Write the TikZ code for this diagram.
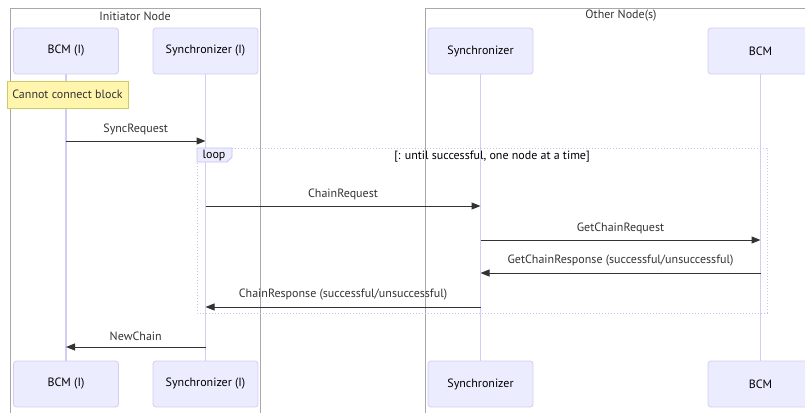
\documentclass[tikz,border=0pt]{standalone}
\usepackage{fontspec}
\setmainfont{PT Sans}
\usetikzlibrary{arrows.meta,positioning}
\definecolor{actfill}{HTML}{ECECFF}
\definecolor{actline}{HTML}{D4CCF2}
\definecolor{grpline}{HTML}{A8A8A8}
\definecolor{txt}{HTML}{333333}
\definecolor{notefill}{HTML}{FFF5AD}
\definecolor{noteline}{HTML}{CCCC66}
\definecolor{loopline}{HTML}{C8C0EE}
\tikzset{
  actor/.style={draw=actline, fill=actfill, rounded corners=3pt, minimum width=105pt, minimum height=46pt, inner sep=0pt, font=\fontsize{12}{14}\selectfont, text=black, line width=0.8pt},
  lifeline/.style={draw=actline, line width=1.2pt},
  group/.style={draw=grpline, line width=0.8pt},
  msg/.style={draw=txt, line width=1pt, -{Triangle[length=9pt,width=7pt]}},
  lbl/.style={font=\fontsize{12}{14}\selectfont, text=txt, inner sep=0pt},
  grplbl/.style={font=\fontsize{12}{14}\selectfont, text=txt, inner sep=0pt},
}
\begin{document}
\begin{tikzpicture}[x=1pt,y=-1pt]
\useasboundingbox (0,0) rectangle (805,412);
\clip (0,0) rectangle (805,412);
% groups
\draw[group] (10,8) rectangle (260,430);
\node[grplbl] (g1) at (135,16) {Initiator Node};
\draw[group] (425,8) rectangle (830,430);
\node[grplbl] (g2) at (621,16) {Other Node(s)};
% actors
\node[actor] (a1) at (66,51) {BCM (I)};
\node[actor] (a2) at (205.5,51) {Synchronizer (I)};
\node[actor] (a3) at (480.5,51) {Synchronizer};
\node[actor] (a4) at (760.5,51) {BCM};
\node[actor] (b1) at (66,384) {BCM (I)};
\node[actor] (b2) at (205.5,384) {Synchronizer (I)};
\node[actor] (b3) at (480.5,384) {Synchronizer};
\node[actor] (b4) at (760.5,384) {BCM};
\draw[lifeline] (a1) -- (b1);
\draw[lifeline] (a2) -- (b2);
\draw[lifeline] (a3) -- (b3);
\draw[lifeline] (a4) -- (b4);
% note
\node[draw=noteline, fill=notefill, line width=0.8pt, minimum width=121pt, minimum height=27pt, inner sep=0pt, font=\fontsize{12}{14}\selectfont, text=txt] (note) at (67.5,94.5) {Cannot connect block};
% loop
\draw[draw=loopline, line width=1pt, dotted] (197,148) rectangle (767,313);
\draw[draw=loopline, fill=actfill, line width=0.8pt] (197,148) -- (232,148) -- (232,157) -- (227,162) -- (197,162) -- cycle;
\node[lbl, text=black] (looplbl) at (214,155.5) {loop};
\node[lbl, text=black] (loopcond) at (492,156.5) {[: until successful, one node at a time]};
% messages
\coordinate (y1) at (0,141);
\coordinate (y2) at (0,206);
\coordinate (y3) at (0,240);
\coordinate (y4) at (0,273);
\coordinate (y5) at (0,307);
\coordinate (y6) at (0,347);
\draw[msg] (a1 |- y1) -- node[lbl, above=6pt] {SyncRequest} (a2 |- y1);
\draw[msg] (a2 |- y2) -- node[lbl, above=6pt] {ChainRequest} (a3 |- y2);
\draw[msg] (a3 |- y3) -- node[lbl, above=6pt] {GetChainRequest} (a4 |- y3);
\draw[msg] (a4 |- y4) -- node[lbl, above=6pt] {GetChainResponse (successful/unsuccessful)} (a3 |- y4);
\draw[msg] (a3 |- y5) -- node[lbl, above=6pt] {ChainResponse (successful/unsuccessful)} (a2 |- y5);
\draw[msg] (a2 |- y6) -- node[lbl, above=6pt] {NewChain} (a1 |- y6);
\end{tikzpicture}
\end{document}
